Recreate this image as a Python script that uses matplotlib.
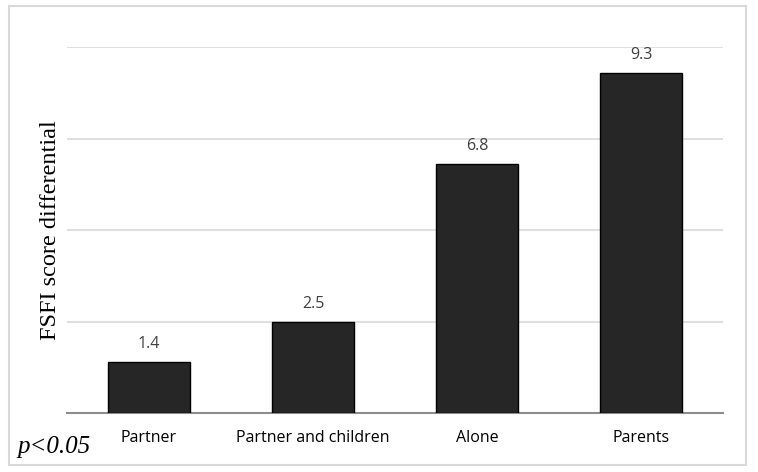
import matplotlib.pyplot as plt
from matplotlib.patches import Rectangle

# Data
categories = ["Partner", "Partner and children", "Alone", "Parents"]
values = [1.4, 2.5, 6.8, 9.3]
value_labels = ["1.4", "2.5", "6.8", "9.3"]

BAR_COLOR = "#262626"
GRID_COLOR = "#d9d9d9"


def main():
    fig = plt.figure(figsize=(7.58, 4.72), dpi=100)
    ax = fig.add_axes([67 / 758, 1 - 413 / 472, 656 / 758, 366 / 472])

    x = range(len(categories))
    ax.bar(x, values, width=0.5, color=BAR_COLOR, edgecolor="black", linewidth=1, zorder=3)

    for xi, v, lab in zip(x, values, value_labels):
        ax.annotate(lab, (xi, v), xytext=(0, 7), textcoords="offset points",
                    ha="center", va="bottom", fontsize=11.5, color="#404040",
                    family="Open Sans")

    ax.set_xlim(-0.5, len(categories) - 0.5)
    ax.set_ylim(0, 10)
    ax.set_yticks([2.5, 5, 7.5, 10])
    ax.yaxis.grid(True, color=GRID_COLOR, linewidth=1.2, zorder=0)
    ax.tick_params(axis="y", left=False, labelleft=False)
    ax.tick_params(axis="x", bottom=False, pad=9)
    ax.set_xticks(list(x))
    ax.set_xticklabels(categories, fontsize=11.5, family="Open Sans")

    for side in ["top", "right", "left"]:
        ax.spines[side].set_visible(False)
    ax.spines["bottom"].set_color("#8c8c8c")
    ax.spines["bottom"].set_linewidth(1.5)

    fig.text(51 / 758, 1 - 230 / 472, "FSFI score differential", rotation=90,
             ha="center", va="center", fontsize=17.5, family="Liberation Serif")
    fig.text(17 / 758, 1 - 453 / 472, "p<0.05", ha="left", va="baseline",
             fontsize=18, style="italic", family="Liberation Serif")

    fig.patches.append(Rectangle((9 / 758, 1 - 465 / 472), 737 / 758, 459 / 472,
                                 transform=fig.transFigure, fill=False,
                                 edgecolor=GRID_COLOR, linewidth=1.5))

    fig.savefig("out.png", dpi=100)


if __name__ == "__main__":
    main()
